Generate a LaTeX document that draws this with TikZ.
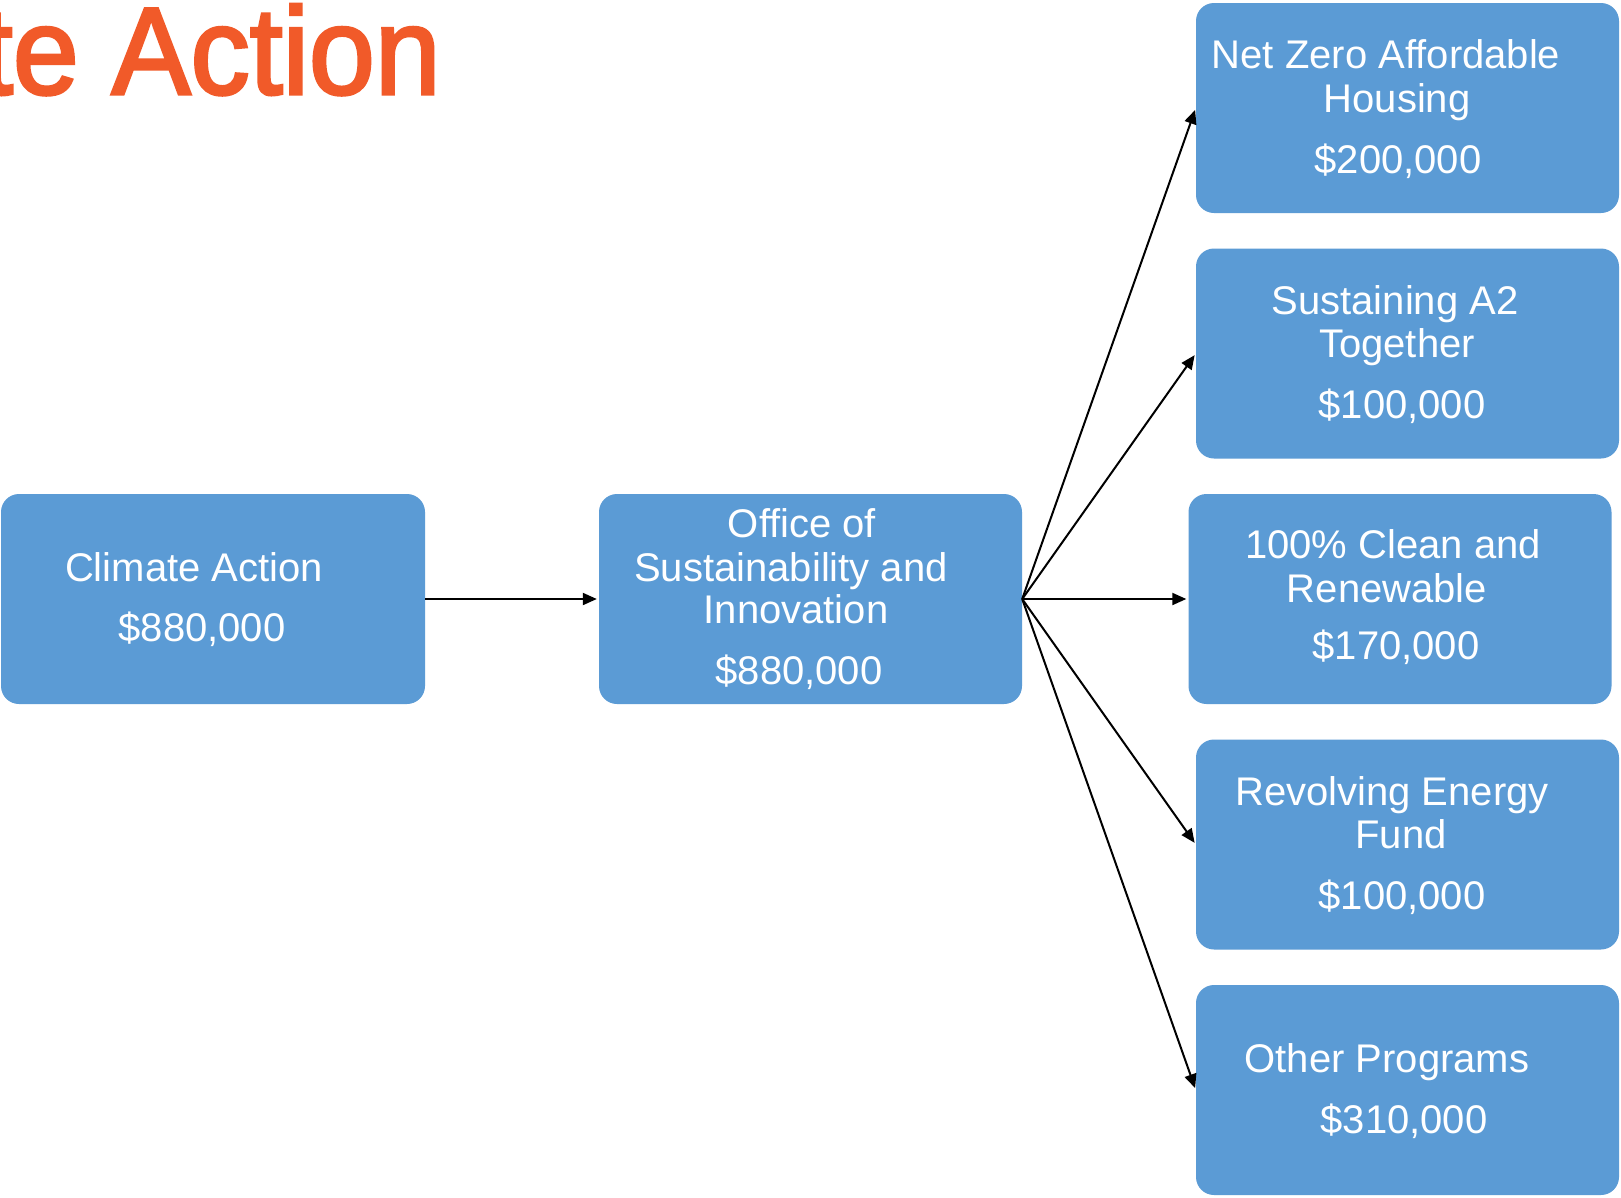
\documentclass[tikz,border=0pt]{standalone}
\usepackage{fontspec}
\setmainfont{Liberation Sans}
\newfontfamily\titlefont[FakeBold=2.5]{Liberation Sans}
\usetikzlibrary{arrows.meta}
\definecolor{boxblue}{HTML}{5B9BD5}
\definecolor{titleorange}{HTML}{F15A29}
\begin{document}
\begin{tikzpicture}[x=1pt,y=-1pt,
  box/.style={fill=boxblue, rounded corners=18pt, inner sep=0pt, minimum width=423pt, minimum height=210pt},
  lbl/.style={text=white, font=\fontsize{40}{43}\selectfont, inner sep=0pt, anchor=base},
  conn/.style={-{Triangle[length=14pt,width=12pt]}, line width=2pt, shorten >=2pt}]
\useasboundingbox (0,0) rectangle (1621,1197);
\fill[white] (0,0) rectangle (1621,1197);
\node[text=titleorange, font=\titlefont\fontsize{124}{140}\selectfont, inner sep=0pt, anchor=base east] (title) at (441,94) {\scalebox{0.955}[1]{te Action}};

\node[box, minimum width=424pt] (ca) at (213,599) {};
\node[box] (osi) at (810.5,599) {};
\node[box] (nz) at (1407.5,108) {};
\node[box] (sa) at (1407.5,353.5) {};
\node[box] (ce) at (1400,599) {};
\node[box] (re) at (1407.5,844.5) {};
\node[box] (op) at (1407.5,1090) {};

\node[lbl] (ca1) at (194,581) {Climate Action};
\node[lbl] (ca2) at (202,641) {\$880,000};

\node[lbl] (osi1) at (802,537) {Office of};
\node[lbl] (osi2) at (791,581) {Sustainability and};
\node[lbl] (osi3) at (796,623) {Innovation};
\node[lbl] (osi4) at (799,684) {\$880,000};

\node[lbl] (nz1) at (1386,68) {Net Zero Affordable};
\node[lbl] (nz2) at (1397,112) {Housing};
\node[lbl] (nz3) at (1398,173) {\$200,000};

\node[lbl] (sa1) at (1395,314) {Sustaining A2};
\node[lbl] (sa2) at (1397,357) {Together};
\node[lbl] (sa3) at (1402,418) {\$100,000};

\node[lbl] (ce1) at (1393,558) {100\% Clean and};
\node[lbl] (ce2) at (1387,602) {Renewable};
\node[lbl] (ce3) at (1396,659) {\$170,000};

\node[lbl] (re1) at (1392,805) {Revolving Energy};
\node[lbl] (re2) at (1401,848) {Fund};
\node[lbl] (re3) at (1402,909) {\$100,000};

\node[lbl] (op1) at (1387,1072) {Other Programs};
\node[lbl] (op2) at (1404,1133) {\$310,000};

\draw[conn] (ca.east) -- (osi.west);
\draw[conn] (osi.east) -- (nz.west);
\draw[conn] (osi.east) -- (sa.west);
\draw[conn] (osi.east) -- (ce.west);
\draw[conn] (osi.east) -- (re.west);
\draw[conn] (osi.east) -- (op.west);
\end{tikzpicture}
\end{document}
